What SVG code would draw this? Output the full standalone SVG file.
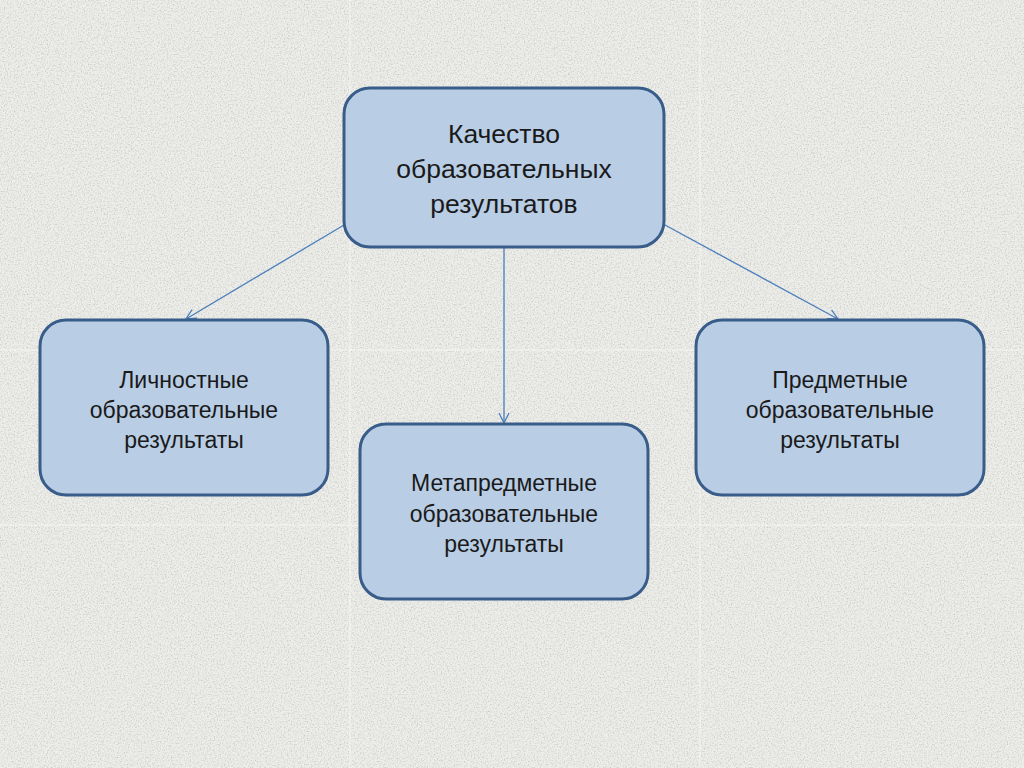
<svg xmlns="http://www.w3.org/2000/svg" width="1024" height="768" viewBox="0 0 1024 768">
<defs>
<filter id="grain" x="0" y="0" width="100%" height="100%">
<feTurbulence type="fractalNoise" baseFrequency="0.7" numOctaves="2" seed="3" result="n"/>
<feColorMatrix in="n" type="matrix" values="0 0 0 0 0.6  0 0 0 0 0.6  0 0 0 0 0.58  0 0 0 -2.4 1.35" result="spk"/>
<feComposite in="spk" in2="SourceGraphic" operator="over"/>
</filter>
<marker id="arr" viewBox="0 0 12 12" refX="11" refY="6" markerWidth="12" markerHeight="12" markerUnits="userSpaceOnUse" orient="auto">
<path d="M1,1 L11,6 L1,11" fill="none" stroke="#4a7ebb" stroke-width="1.3"/>
</marker>
</defs>
<style>
.box{fill:#b9cde5;stroke:#385d8a;stroke-width:3}
.t{font-family:"Liberation Sans","Open Sans",sans-serif;fill:#1a1a1a;text-anchor:middle}
.big{font-size:26.5px}
.sm{font-size:23px}
.con{stroke:#4a7ebb;stroke-width:1.3;fill:none;marker-end:url(#arr)}
.seam{stroke:#ffffff;stroke-opacity:0.6;stroke-width:1}
</style>
<rect width="1024" height="768" fill="#ededea" filter="url(#grain)"/>
<g id="seams">
<line class="seam" x1="350" y1="0" x2="350" y2="768"/>
<line class="seam" x1="700" y1="0" x2="700" y2="768"/>
<line class="seam" x1="0" y1="350" x2="1024" y2="350"/>
<line class="seam" x1="0" y1="525" x2="1024" y2="525"/>
</g>
<g id="connectors">
<line class="con" x1="344" y1="225" x2="186" y2="319"/>
<line class="con" x1="504" y1="248" x2="504" y2="423"/>
<line class="con" x1="665" y1="225" x2="838" y2="319"/>
</g>
<g id="n-quality">
<rect class="box" x="344" y="88" width="320" height="159" rx="26"/>
<text class="t big" x="504" y="143">Качество</text>
<text class="t big" x="504" y="178">образовательных</text>
<text class="t big" x="504" y="213">результатов</text>
</g>
<g id="n-personal">
<rect class="box" x="40" y="320" width="288" height="175" rx="26"/>
<text class="t sm" x="184" y="388">Личностные</text>
<text class="t sm" x="184" y="418">образовательные</text>
<text class="t sm" x="184" y="448">результаты</text>
</g>
<g id="n-meta">
<rect class="box" x="360" y="424" width="288" height="175" rx="26"/>
<text class="t sm" x="504" y="491">Метапредметные</text>
<text class="t sm" x="504" y="522">образовательные</text>
<text class="t sm" x="504" y="552">результаты</text>
</g>
<g id="n-subject">
<rect class="box" x="696" y="320" width="288" height="175" rx="26"/>
<text class="t sm" x="840" y="388">Предметные</text>
<text class="t sm" x="840" y="418">образовательные</text>
<text class="t sm" x="840" y="448">результаты</text>
</g>
</svg>
